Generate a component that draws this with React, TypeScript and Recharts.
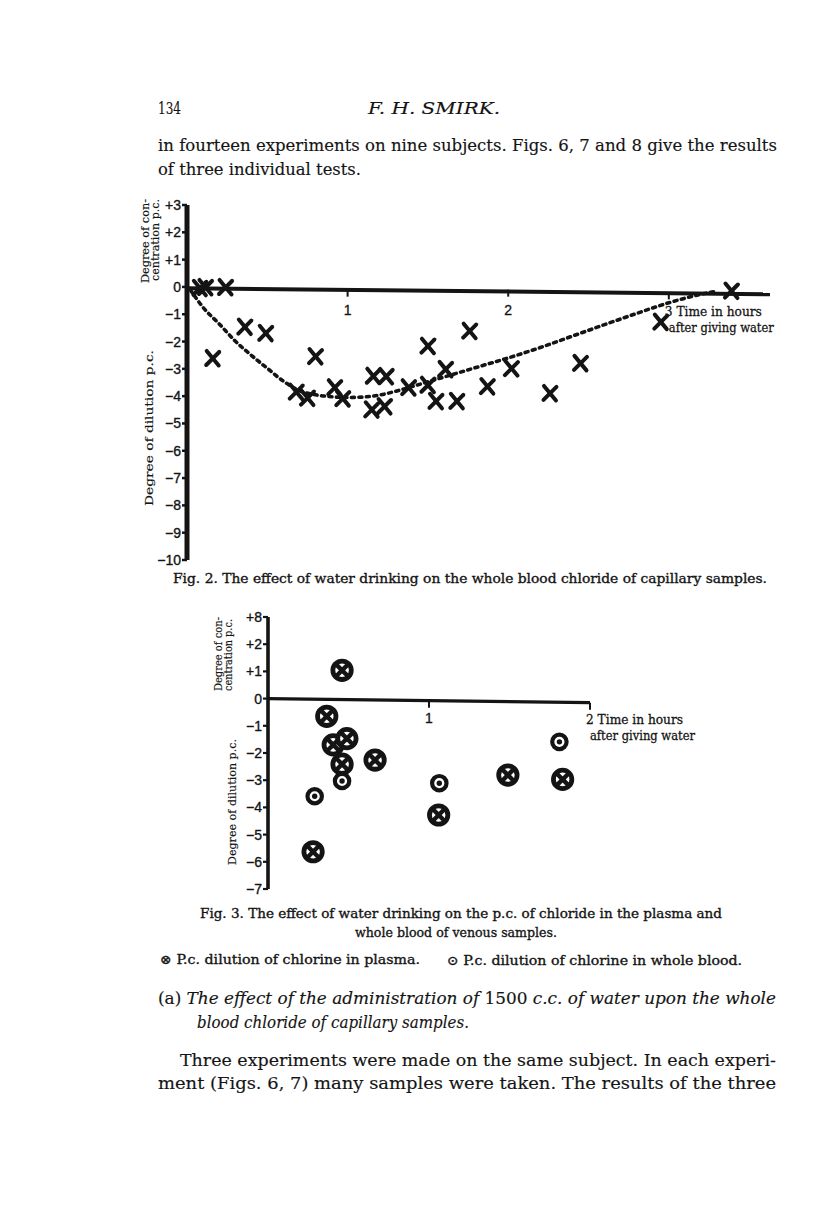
import React from 'react';
import { ComposedChart, Scatter, Line, XAxis, YAxis, ReferenceLine, ReferenceDot } from 'recharts';

// Fig. 2 - whole blood chloride of capillary samples (hours, p.c.)
const capTime = [0.08, 0.115, 0.24, 0.16, 0.36, 0.49, 0.8, 0.68, 0.75, 0.92, 0.97, 1.16, 1.24, 1.15, 1.23, 1.38, 1.5, 1.5, 1.55, 1.61, 1.68, 1.76, 1.87, 2.02, 2.26, 2.45, 2.95, 3.39];
const capValue = [-0.05, -0.02, -0.02, -2.62, -1.47, -1.7, -2.55, -3.85, -4.07, -3.69, -4.09, -3.27, -3.28, -4.5, -4.38, -3.69, -2.17, -3.6, -4.19, -3.02, -4.19, -1.62, -3.65, -2.99, -3.9, -2.8, -1.29, -0.15];

// dotted trend line drawn through the points
const curveTime = [0.02, 0.1, 0.2, 0.3, 0.4, 0.5, 0.6, 0.7, 0.8, 0.9, 1.0, 1.1, 1.2, 1.3, 1.4, 1.6, 1.8, 2.0, 2.2, 2.4, 2.6, 2.8, 3.0, 3.2, 3.3];
const curveValue = [-0.1, -0.75, -1.35, -1.98, -2.5, -2.98, -3.45, -3.8, -3.95, -4.02, -4.05, -4.03, -3.96, -3.82, -3.65, -3.3, -2.95, -2.6, -2.22, -1.8, -1.38, -0.97, -0.58, -0.27, -0.15];

const fig2Ticks = [3, 2, 1, 0, -1, -2, -3, -4, -5, -6, -7, -8, -9, -10];
const fig2TickLabels = ['+3', '+2', '+1', '0', '\u22121', '\u22122', '\u22123', '\u22124', '\u22125', '\u22126', '\u22127', '\u22128', '\u22129', '\u221210'];
const fig2Hours = [1, 2];
const fig2LastHour = 3;

// Fig. 3 - venous samples
const plasmaTime = [0.46, 0.365, 0.405, 0.49, 0.46, 0.665, 0.28, 1.06, 1.49, 1.83];
const plasmaValue = [1.04, -0.65, -1.7, -1.47, -2.41, -2.26, -5.63, -4.28, -2.81, -2.97];
const wholeTime = [0.46, 0.29, 1.064, 1.81];
const wholeValue = [-3.03, -3.59, -3.11, -1.59];

const fig3Ticks = [3, 2, 1, 0, -1, -2, -3, -4, -5, -6, -7];
const fig3TickLabels = ['+8', '+2', '+1', '0', '\u22121', '\u22122', '\u22123', '\u22124', '\u22125', '\u22126', '\u22127'];
const fig3Hours = [1];
const fig3LastHour = 2;

const ink = '#141414';
const serif = '"DejaVu Serif", serif';
const sans = '"Liberation Sans", Arial, sans-serif';

const zip = (xs: number[], ys: number[]) => xs.map((x, i) => ({ x, y: ys[i] }));

const capData = zip(capTime, capValue);
const curveData = zip(curveTime, curveValue);
const plasmaData = zip(plasmaTime, plasmaValue);
const wholeData = zip(wholeTime, wholeValue);

const XMark = (props: any) => {
  const { cx, cy } = props;
  return (
    <g stroke={ink} strokeWidth={4} strokeLinecap="round">
      <line x1={cx - 6} y1={cy - 7.5} x2={cx + 6} y2={cy + 7} />
      <line x1={cx - 6.5} y1={cy + 6.5} x2={cx + 6.5} y2={cy - 6.5} />
    </g>
  );
};

const PlasmaMark = (props: any) => {
  const { cx, cy } = props;
  const d = 6.2;
  return (
    <g stroke={ink}>
      <circle cx={cx} cy={cy} r={9.2} fill="#fff" strokeWidth={4.8} />
      <line x1={cx - d} y1={cy - d} x2={cx + d} y2={cy + d} strokeWidth={4.4} />
      <line x1={cx - d} y1={cy + d} x2={cx + d} y2={cy - d} strokeWidth={4.4} />
    </g>
  );
};

const WholeMark = (props: any) => {
  const { cx, cy } = props;
  return (
    <g>
      <circle cx={cx} cy={cy} r={7.2} fill="#fff" stroke={ink} strokeWidth={4.2} />
      <circle cx={cx} cy={cy} r={2.7} fill={ink} />
    </g>
  );
};

const HourTick = (props: any) => {
  const { cx, cy, label, dy } = props;
  return (
    <g>
      <line x1={cx} y1={cy} x2={cx} y2={cy + 7} stroke={ink} strokeWidth={2} />
      <text x={cx} y={cy + dy} textAnchor="middle" fontFamily={sans} fontSize={14} fill={ink} stroke={ink} strokeWidth={0.3}>
        {label}
      </text>
    </g>
  );
};

const TimeLabel = (props: any) => {
  const { cx, cy, label, dy } = props;
  return (
    <g fontFamily={serif} fontSize={13} fill={ink} stroke={ink} strokeWidth={0.3}>
      <line x1={cx} y1={cy} x2={cx} y2={cy + 7} stroke={ink} strokeWidth={2} />
      <text x={cx - 4} y={cy + dy} textLength={97} lengthAdjust="spacingAndGlyphs">
        {label} Time in hours
      </text>
      <text x={cx} y={cy + dy + 16} textLength={105} lengthAdjust="spacingAndGlyphs">
        after giving water
      </text>
    </g>
  );
};

const tickFmt = (ticks: number[], labels: string[]) => (v: number) => labels[ticks.indexOf(v)] ?? '';

const PageText = ({ x, y, w, size, children, italic, bold }: any) => (
  <text
    x={x}
    y={y}
    fontFamily={serif}
    fontSize={size}
    fontStyle={italic ? 'italic' : 'normal'}
    textLength={w}
    lengthAdjust="spacingAndGlyphs"
    fill={ink}
    stroke={ink}
    strokeWidth={bold ? 0.35 : 0.15}
  >
    {children}
  </text>
);

const VText = ({ x, y, w, size, children }: any) => (
  <text
    x={x}
    y={y}
    fontFamily={serif}
    fontSize={size}
    textAnchor="middle"
    textLength={w}
    lengthAdjust="spacingAndGlyphs"
    transform={`rotate(-90 ${x} ${y})`}
    fill={ink}
    stroke={ink}
    strokeWidth={0.15}
  >
    {children}
  </text>
);

const axisTick = { fontFamily: sans, fontSize: 14, fill: ink, stroke: ink, strokeWidth: 0.35 };

export default function App() {
  return (
    <div style={{ position: 'absolute', left: 0, top: 0, width: 816, height: 1221, background: '#fff', overflow: 'hidden' }}>
      <svg width={816} height={1221} style={{ position: 'absolute', left: 0, top: 0 }}>
        <PageText x={158} y={114} w={23} size={17}>134</PageText>
        <PageText x={368} y={114} w={132} size={17} italic>F. H. SMIRK.</PageText>
        <PageText x={158} y={151} w={619} size={17}>in fourteen experiments on nine subjects.  Figs. 6, 7 and 8 give the results</PageText>
        <PageText x={158} y={175} w={203} size={17}>of three individual tests.</PageText>

        <VText x={149} y={241} w={84} size={10.5}>Degree of con-</VText>
        <VText x={159} y={240} w={82} size={10.5}>centration p.c.</VText>
        <VText x={153} y={428} w={156} size={11}>Degree of dilution p.c.</VText>

        <PageText x={173} y={583} w={594} size={13} bold>Fig. 2.  The effect of water drinking on the whole blood chloride of capillary samples.</PageText>

        <VText x={222} y={654} w={74} size={10.5}>Degree of con-</VText>
        <VText x={232} y={655} w={72} size={10.5}>centration p.c.</VText>
        <VText x={236} y={802} w={126} size={11}>Degree of dilution p.c.</VText>

        <PageText x={200} y={918} w={522} size={13} bold>Fig. 3. The effect of water drinking on the p.c. of chloride in the plasma and</PageText>
        <PageText x={355} y={937} w={202} size={13} bold>whole blood of venous samples.</PageText>
        <PageText x={160} y={964} w={260} size={13} bold>{'\u2297 P.c. dilution of chlorine in plasma.'}</PageText>
        <PageText x={447} y={965} w={295} size={13} bold>{'\u2299 P.c. dilution of chlorine in whole blood.'}</PageText>

        <text x={158} y={1004} fontFamily={serif} fontSize={17} fill={ink} stroke={ink} strokeWidth={0.15} textLength={618} lengthAdjust="spacingAndGlyphs">
          <tspan>(a) </tspan>
          <tspan fontStyle="italic">The effect of the administration of </tspan>
          <tspan>1500 </tspan>
          <tspan fontStyle="italic">c.c. of water upon the whole</tspan>
        </text>
        <PageText x={197} y={1028} w={272} size={17} italic>blood chloride of capillary samples.</PageText>
        <PageText x={180} y={1066} w={596} size={17}>Three experiments were made on the same subject.  In each experi-</PageText>
        <PageText x={158} y={1089} w={618} size={17}>ment (Figs. 6, 7) many samples were taken. The results of the three</PageText>
      </svg>

      <div style={{ position: 'absolute', left: 0, top: 180 }}>
        <ComposedChart width={816} height={400} margin={{ top: 25, right: 46, bottom: 20, left: 127 }}>
          <XAxis dataKey="x" type="number" domain={[0, 3.63]} allowDataOverflow hide />
          <YAxis
            dataKey="y"
            type="number"
            domain={[-10, 3]}
            ticks={fig2Ticks}
            interval={0}
            width={60}
            tickFormatter={tickFmt(fig2Ticks, fig2TickLabels)}
            axisLine={{ stroke: ink, strokeWidth: 5 }}
            tickLine={{ stroke: ink, strokeWidth: 2.5 }}
            tickSize={5}
            tickMargin={1}
            tick={axisTick}
          />
          <ReferenceLine segment={[{ x: 0, y: -0.05 }, { x: 3.63, y: -0.27 }]} stroke={ink} strokeWidth={4} />
          {fig2Hours.map((h) => (
            <ReferenceDot key={h} x={h} y={-0.1} r={0} shape={(p: any) => <HourTick {...p} label={String(h)} dy={25} />} />
          ))}
          <ReferenceDot x={fig2LastHour} y={-0.2} r={0} shape={(p: any) => <TimeLabel {...p} label={String(fig2LastHour)} dy={24} />} />
          <Line
            data={curveData}
            dataKey="y"
            type="monotone"
            stroke={ink}
            strokeWidth={3.6}
            strokeDasharray="3 4.5"
            strokeLinecap="round"
            dot={false}
            isAnimationActive={false}
          />
          <Scatter data={capData} dataKey="y" shape={<XMark />} isAnimationActive={false} />
        </ComposedChart>
      </div>

      <div style={{ position: 'absolute', left: 0, top: 600 }}>
        <ComposedChart width={816} height={300} margin={{ top: 17, right: 226, bottom: 11, left: 208 }}>
          <XAxis dataKey="x" type="number" domain={[0, 2]} allowDataOverflow hide />
          <YAxis
            dataKey="y"
            type="number"
            domain={[-7, 3]}
            ticks={fig3Ticks}
            interval={0}
            width={60}
            tickFormatter={tickFmt(fig3Ticks, fig3TickLabels)}
            axisLine={{ stroke: ink, strokeWidth: 3.6 }}
            tickLine={{ stroke: ink, strokeWidth: 2.2 }}
            tickSize={5}
            tickMargin={1}
            tick={axisTick}
          />
          <ReferenceLine segment={[{ x: 0, y: 0 }, { x: 2, y: -0.15 }]} stroke={ink} strokeWidth={3.2} />
          {fig3Hours.map((h) => (
            <ReferenceDot key={h} x={h} y={-0.08} r={0} shape={(p: any) => <HourTick {...p} label={String(h)} dy={22} />} />
          ))}
          <ReferenceDot x={fig3LastHour} y={-0.15} r={0} shape={(p: any) => <TimeLabel {...p} label={String(fig3LastHour)} dy={21} />} />
          <Scatter data={plasmaData} dataKey="y" shape={<PlasmaMark />} isAnimationActive={false} />
          <Scatter data={wholeData} dataKey="y" shape={<WholeMark />} isAnimationActive={false} />
        </ComposedChart>
      </div>
    </div>
  );
}
